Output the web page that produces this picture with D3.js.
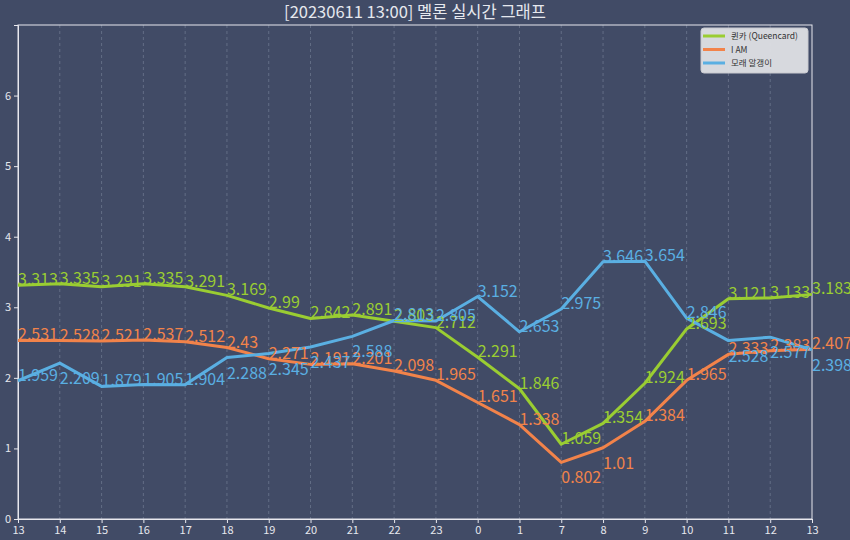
<!DOCTYPE html>
<html>
<head>
<meta charset="utf-8">
<script src="https://cdn.jsdelivr.net/npm/d3@7"></script>
<style>
  body { margin: 0; background: #414b66; }
  svg { display: block; }
</style>
</head>
<body>
<div id="chart"></div>
<script>
const hours = ["13", "14", "15", "16", "17", "18", "19", "20", "21", "22", "23", "0", "1", "7", "8", "9", "10", "11", "12", "13"];

const queencard = [3.313, 3.335, 3.291, 3.335, 3.291, 3.169, 2.99, 2.842, 2.891, 2.803, 2.712, 2.291, 1.846, 1.059, 1.354, 1.924, 2.693, 3.121, 3.133, 3.183];
const iam = [2.531, 2.528, 2.521, 2.537, 2.512, 2.43, 2.271, 2.191, 2.201, 2.098, 1.965, 1.651, 1.338, 0.802, 1.01, 1.384, 1.965, 2.333, 2.383, 2.407];
const sand = [1.959, 2.209, 1.879, 1.905, 1.904, 2.288, 2.345, 2.437, 2.588, 2.813, 2.805, 3.152, 2.653, 2.975, 3.646, 3.654, 2.846, 2.528, 2.577, 2.398];

const seriesNames = ["퀸카 (Queencard)", "I AM", "모래 알갱이"];
const yTicks = [0, 1, 2, 3, 4, 5, 6];

// which labels were pushed under their point (label placement only)
const labelsBelow = { 1: [13, 14], 2: [1, 5, 6, 7, 8, 17, 18, 19] };

const width = 850, height = 540;
const margin = { top: 25, right: 38, bottom: 21, left: 18 };
const colors = ["#9acd32", "#f2834a", "#5aafe2"];
const font = "'Noto Sans CJK KR', 'Noto Sans', sans-serif";

const svg = d3.select("#chart").append("svg")
    .attr("width", width)
    .attr("height", height);

svg.append("rect").attr("width", width).attr("height", height).attr("fill", "#414b66");

const x = d3.scaleLinear()
    .domain([0, hours.length - 1])
    .range([margin.left, width - margin.right]);
const y = d3.scaleLinear()
    .domain([0, 7])
    .range([height - margin.bottom, margin.top]);

// title
svg.append("text")
    .attr("x", (x.range()[0] + x.range()[1]) / 2)
    .attr("y", 18)
    .attr("text-anchor", "middle")
    .attr("font-family", font)
    .attr("font-size", 16.5)
    .attr("fill", "#e6e8ee")
    .text("[20230611 13:00] 멜론 실시간 그래프");

// vertical dashed grid
svg.append("g")
    .selectAll("line")
    .data(d3.range(1, hours.length - 1))
    .enter()
    .append("line")
    .attr("x1", d => x(d)).attr("x2", d => x(d))
    .attr("y1", y(7)).attr("y2", y(0))
    .attr("stroke", "#8a93a8")
    .attr("stroke-opacity", 0.6)
    .attr("stroke-width", 0.8)
    .attr("stroke-dasharray", "3,3");

// frame
svg.append("rect")
    .attr("x", x(0)).attr("y", y(7))
    .attr("width", x(hours.length - 1) - x(0))
    .attr("height", y(0) - y(7))
    .attr("fill", "none")
    .attr("stroke", "#e8e8ee")
    .attr("stroke-width", 1);

// axes
const xAxis = svg.append("g")
    .attr("transform", `translate(0,${y(0)})`)
    .call(d3.axisBottom(x)
        .tickValues(d3.range(hours.length))
        .tickFormat(i => hours[i])
        .tickSize(4)
        .tickPadding(3));
const yAxis = svg.append("g")
    .attr("transform", `translate(${x(0)},0)`)
    .call(d3.axisLeft(y)
        .tickValues(yTicks)
        .tickFormat(d3.format("d"))
        .tickSize(4)
        .tickPadding(3));
for (const ax of [xAxis, yAxis]) {
    ax.select(".domain").attr("stroke", "#e8e8ee");
    ax.selectAll(".tick line").attr("stroke", "#e8e8ee");
    ax.selectAll(".tick text")
        .attr("fill", "#e6e8ee")
        .attr("font-family", font)
        .attr("font-size", 11);
}

// lines and value labels
const allSeries = [queencard, iam, sand];
const line = d3.line()
    .x((d, i) => x(i))
    .y(d => y(d));

allSeries.forEach((values, s) => {
    svg.append("path")
        .datum(values)
        .attr("d", line)
        .attr("fill", "none")
        .attr("stroke", colors[s])
        .attr("stroke-width", 3)
        .attr("stroke-linejoin", "round");
});

allSeries.forEach((values, s) => {
    const below = labelsBelow[s] || [];
    svg.append("g")
        .selectAll("text")
        .data(values)
        .enter()
        .append("text")
        .attr("x", (d, i) => x(i))
        .attr("y", (d, i) => y(d) + (below.includes(i) ? 21 : 0))
        .attr("font-family", font)
        .attr("font-size", 16)
        .attr("fill", colors[s])
        .text(d => d);
});

// legend
const legend = svg.append("g").attr("transform", "translate(701,28)");
legend.append("rect")
    .attr("width", 107).attr("height", 45)
    .attr("rx", 3)
    .attr("fill", "#dfe0e5")
    .attr("fill-opacity", 0.95)
    .attr("stroke", "#c8c9cf");
seriesNames.forEach((name, i) => {
    const g = legend.append("g").attr("transform", `translate(0,${8 + i * 13.5})`);
    g.append("line")
        .attr("x1", 2).attr("x2", 24)
        .attr("stroke", colors[i])
        .attr("stroke-width", 3);
    g.append("text")
        .attr("x", 30).attr("y", 3)
        .attr("font-family", font)
        .attr("font-size", 8.5)
        .attr("fill", "#333")
        .text(name);
});
</script>
</body>
</html>
